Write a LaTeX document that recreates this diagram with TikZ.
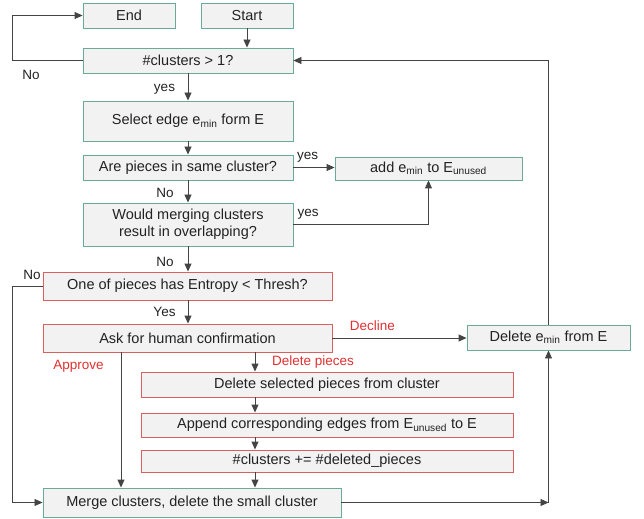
\documentclass[tikz,border=0pt]{standalone}
\usepackage{fontspec}
\setmainfont{Liberation Sans}
\usetikzlibrary{arrows.meta}
\definecolor{boxfill}{HTML}{F2F2F2}
\definecolor{greenline}{HTML}{6AAA98}
\definecolor{redline}{HTML}{D9605F}
\definecolor{redtext}{HTML}{E03030}
\definecolor{txt}{HTML}{222222}
\definecolor{conn}{HTML}{444444}
\begin{document}
\begin{tikzpicture}[x=1bp,y=-1bp,
  box/.style={draw, fill=boxfill, line width=0.9bp, inner sep=0pt, text=txt,
    font=\fontsize{14.5bp}{17bp}\selectfont, align=center},
  gbox/.style={box, draw=greenline},
  rbox/.style={box, draw=redline},
  arr/.style={draw=conn, line width=0.9bp, -{Triangle[length=8bp,width=7bp]}},
  ln/.style={draw=conn, line width=0.9bp},
  lbl/.style={text=txt, font=\fontsize{13.5bp}{16bp}\selectfont, inner sep=0pt},
  rlbl/.style={lbl, text=redtext}]
\useasboundingbox (0,0) rectangle (644,519);
% nodes
\node[gbox, minimum width=92bp, minimum height=25bp] (end) at (129,15.5) {End};
\node[gbox, minimum width=92bp, minimum height=25bp] (start) at (247,15.5) {Start};
\node[gbox, minimum width=210bp, minimum height=25bp] (q1) at (188,60.5) {\#clusters > 1?};
\node[gbox, minimum width=210bp, minimum height=40bp] (sel) at (188,121) {Select edge e\textsubscript{min} form E};
\node[gbox, minimum width=210bp, minimum height=25bp] (same) at (188,167.5) {Are pieces in same cluster?};
\node[gbox, minimum width=187bp, minimum height=23bp] (add) at (428.5,168.5) {add e\textsubscript{min} to E\textsubscript{unused}};
\node[gbox, minimum width=210bp, minimum height=43bp] (would) at (188,224.5) {Would merging clusters\\result in overlapping?};
\node[rbox, minimum width=289bp, minimum height=28bp] (ent) at (187.5,286) {One of pieces has Entropy < Thresh?};
\node[rbox, minimum width=289bp, minimum height=28bp] (ask) at (187.5,338) {Ask for human confirmation};
\node[gbox, minimum width=163bp, minimum height=25bp] (dele) at (548.5,337.5) {Delete e\textsubscript{min} from E};
\node[rbox, minimum width=372bp, minimum height=25bp] (delsel) at (327,384.5) {Delete selected pieces from cluster};
\node[rbox, minimum width=372bp, minimum height=24bp] (app) at (327,425) {Append corresponding edges from E\textsubscript{unused} to E};
\node[rbox, minimum width=372bp, minimum height=22bp] (inc) at (327,461) {\#clusters += \#deleted\_pieces};
\node[gbox, minimum width=298bp, minimum height=29bp] (merge) at (192,502.5) {Merge clusters, delete the small cluster};
% helper coordinates
\coordinate (askL) at (121,352);
\coordinate (askR) at (255,352);
\coordinate (corner) at (dele.south |- merge.east);
% connectors
\draw[arr] (start.south) -- (start.south |- q1.north);
\draw[arr] (q1.west) -- ++(-70,0) |- (end.west);
\draw[arr] (q1.south) -- (sel.north);
\draw[arr] (sel.south) -- (same.north);
\draw[arr] (same.east) -- (same.east -| add.west);
\draw[arr] (same.south) -- (would.north);
\draw[arr] (would.east) -| (add.south);
\draw[arr] (would.south) -- (would.south |- ent.north);
\draw[arr] (ent.south -| would.south) -- (ask.north -| would.south);
\draw[arr] (ent.west) -- ++(-30,0) |- (merge.west);
\draw[arr] (ask.east) -- (ask.east -| dele.west);
\draw[arr] (askL) -- (askL |- merge.north);
\draw[arr] (askR) -- (askR |- delsel.north);
\draw[arr] (delsel.south -| askR) -- (app.north -| askR);
\draw[arr] (app.south -| askR) -- (inc.north -| askR);
\draw[arr] (inc.south -| askR) -- (merge.north -| askR);
\draw[arr] (merge.east) -- (corner);
\draw[arr] (corner) -- (dele.south);
\draw[arr] (dele.north) |- (q1.east);
% labels
\node[lbl] (lno1) at (31,75) {No};
\node[lbl] (lyes1) at (164.5,89) {yes};
\node[lbl] (lyes2) at (307.5,157) {yes};
\node[lbl] (lno2) at (165,193) {No};
\node[lbl] (lyes3) at (308,214) {yes};
\node[lbl] (lno3) at (165,262) {No};
\node[lbl] (lno4) at (32,275) {No};
\node[lbl] (lyes4) at (164.5,312) {Yes};
\node[rlbl] (lapp) at (78.5,366) {Approve};
\node[rlbl] (ldel) at (313,362) {Delete pieces};
\node[rlbl] (ldec) at (372.5,326) {Decline};
\end{tikzpicture}
\end{document}
